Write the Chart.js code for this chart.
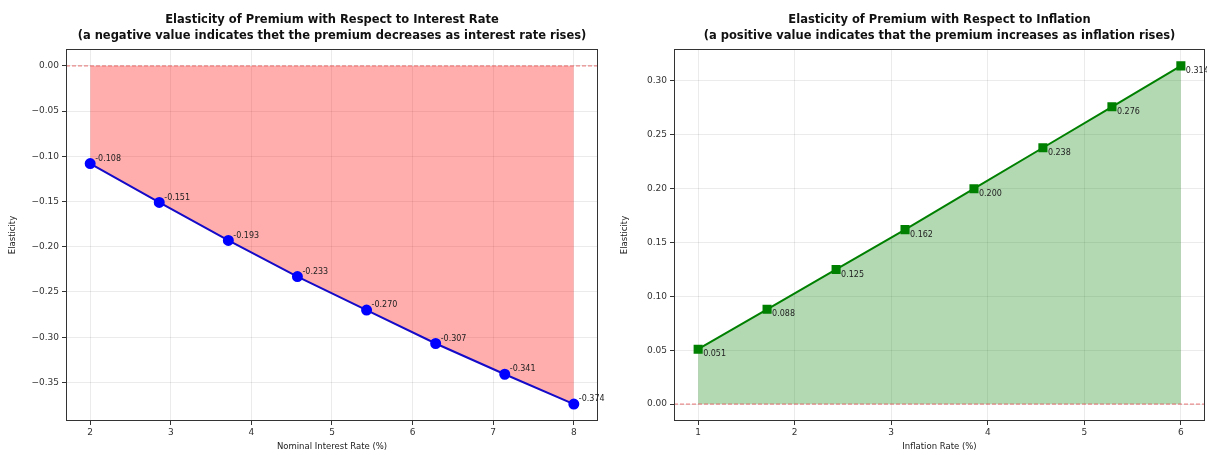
<!DOCTYPE html>
<html>
<head>
<meta charset="utf-8">
<script src="https://cdn.jsdelivr.net/npm/chart.js@4"></script>
<style>
    body { margin: 0; width: 1207px; height: 455px; background: #fff; overflow: hidden; position: relative; }
    .box { position: absolute; top: 0; height: 455px; }
    #rateBox { left: 0; width: 612px; }
    #inflBox { left: 612px; width: 600px; }
</style>
</head>
<body>
<div class="box" id="rateBox"><canvas id="rateChart" width="612" height="455"></canvas></div>
<div class="box" id="inflBox"><canvas id="inflChart" width="600" height="455"></canvas></div>
<script>
// 금리 탄력성 데이터
const rateX = [2, 2.857, 3.714, 4.571, 5.429, 6.286, 7.143, 8];
const rateElasticity = [-0.108, -0.151, -0.193, -0.233, -0.270, -0.307, -0.341, -0.374];
const rateXTicks = [2, 3, 4, 5, 6, 7, 8];
const rateYTicks = [0, -0.05, -0.10, -0.15, -0.20, -0.25, -0.30, -0.35];

// 인플레이션 탄력성 데이터
const inflX = [1, 1.714, 2.429, 3.143, 3.857, 4.571, 5.286, 6];
const inflElasticity = [0.051, 0.088, 0.125, 0.162, 0.200, 0.238, 0.276, 0.314];
const inflXTicks = [1, 2, 3, 4, 5, 6];
const inflYTicks = [0, 0.05, 0.10, 0.15, 0.20, 0.25, 0.30];

const FONT = "'DejaVu Sans', sans-serif";

// matplotlib 기본 여백(5%)
function padRange(vals, withZero) {
    let lo = Math.min(...vals), hi = Math.max(...vals);
    if (withZero) { lo = Math.min(lo, 0); hi = Math.max(hi, 0); }
    const pad = (hi - lo) * 0.05;
    return [lo - pad, hi + pad];
}

// 제목, 테두리, 0 기준선, 값 라벨
const decorPlugin = {
    id: 'decor',
    afterDatasetsDraw(chart, args, opts) {
        const c = chart.ctx;
        const area = chart.chartArea;
        const y0 = chart.scales.y.getPixelForValue(0);

        c.save();
        c.strokeStyle = 'rgba(225, 70, 70, 0.75)';
        c.lineWidth = 1;
        c.setLineDash([4, 2]);
        c.beginPath();
        c.moveTo(area.left, y0);
        c.lineTo(area.right, y0);
        c.stroke();
        c.setLineDash([]);

        c.strokeStyle = '#333';
        c.strokeRect(area.left + 0.5, area.top + 0.5, area.right - area.left - 1, area.bottom - area.top - 1);

        const meta = chart.getDatasetMeta(0);
        c.font = '8px ' + FONT;
        c.fillStyle = '#222';
        c.textAlign = 'left';
        c.textBaseline = 'middle';
        meta.data.forEach((pt, i) => {
            const v = chart.data.datasets[0].data[i].y;
            c.fillText(v.toFixed(3), pt.x + 5, pt.y + opts.labelDy);
        });

        c.font = 'bold 11.5px ' + FONT;
        c.fillStyle = '#111';
        c.textAlign = 'center';
        c.textBaseline = 'middle';
        const cx = (area.left + area.right) / 2;
        c.fillText(opts.title[0], cx, 20);
        c.fillText(opts.title[1], cx, 36);
        c.restore();
    }
};

function makeChart(id, xs, ys, xTicks, yTicks, style) {
    const [xMin, xMax] = padRange(xs, false);
    const [yMin, yMax] = padRange(ys, true);
    const tickFont = { family: FONT, size: 9 };

    return new Chart(document.getElementById(id).getContext('2d'), {
        type: 'line',
        data: {
            datasets: [{
                data: xs.map((x, i) => ({ x: x, y: ys[i] })),
                borderColor: style.line,
                backgroundColor: style.fill,
                borderWidth: 2,
                fill: 'origin',
                pointStyle: style.marker,
                pointRadius: style.radius,
                pointBackgroundColor: style.marker === 'circle' ? 'rgb(0, 0, 255)' : style.line,
                pointBorderColor: style.marker === 'circle' ? 'rgb(0, 0, 255)' : style.line,
                tension: 0
            }]
        },
        options: {
            responsive: false,
            animation: false,
            devicePixelRatio: 1,
            layout: { padding: { top: 49, right: style.padRight, bottom: 0, left: 0 } },
            plugins: {
                legend: { display: false },
                tooltip: { enabled: false },
                decor: { title: style.title, labelDy: style.labelDy }
            },
            scales: {
                x: {
                    type: 'linear',
                    min: xMin,
                    max: xMax,
                    afterBuildTicks: s => { s.ticks = xTicks.map(v => ({ value: v })); },
                    afterFit: s => { s.height = 34; },
                    ticks: { font: tickFont, color: '#333', padding: 2, callback: v => String(v) },
                    grid: { color: 'rgba(0,0,0,0.08)', tickColor: '#333', tickLength: 4 },
                    border: { display: false },
                    title: { display: true, text: style.xLabel, font: { family: FONT, size: 8.5 }, color: '#222', padding: { top: 0, bottom: 3 } }
                },
                y: {
                    min: yMin,
                    max: yMax,
                    afterBuildTicks: s => { s.ticks = yTicks.map(v => ({ value: v })); },
                    afterFit: s => { s.width = style.yWidth; },
                    ticks: { font: tickFont, color: '#333', padding: 3, callback: v => v.toFixed(2).replace('-', '\u2212') },
                    grid: { color: 'rgba(0,0,0,0.08)', tickColor: '#333', tickLength: 4 },
                    border: { display: false },
                    title: { display: true, text: 'Elasticity', font: { family: FONT, size: 8.5 }, color: '#222', padding: { top: 8, bottom: 0 } }
                }
            }
        },
        plugins: [decorPlugin]
    });
}

makeChart('rateChart', rateX, rateElasticity, rateXTicks, rateYTicks, {
    line: 'rgb(20, 10, 200)',
    fill: 'rgba(255, 0, 0, 0.32)',
    marker: 'circle',
    radius: 4.5,
    labelDy: -5,
    padRight: 14,
    yWidth: 66,
    xLabel: 'Nominal Interest Rate (%)',
    title: ['Elasticity of Premium with Respect to Interest Rate',
            '(a negative value indicates thet the premium decreases as interest rate rises)']
});

makeChart('inflChart', inflX, inflElasticity, inflXTicks, inflYTicks, {
    line: 'rgb(0, 128, 0)',
    fill: 'rgba(0, 128, 0, 0.3)',
    marker: 'rect',
    radius: 5,
    labelDy: 5,
    padRight: 0,
    yWidth: 62,
    xLabel: 'Inflation Rate (%)',
    title: ['Elasticity of Premium with Respect to Inflation',
            '(a positive value indicates that the premium increases as inflation rises)']
});
</script>
</body>
</html>
